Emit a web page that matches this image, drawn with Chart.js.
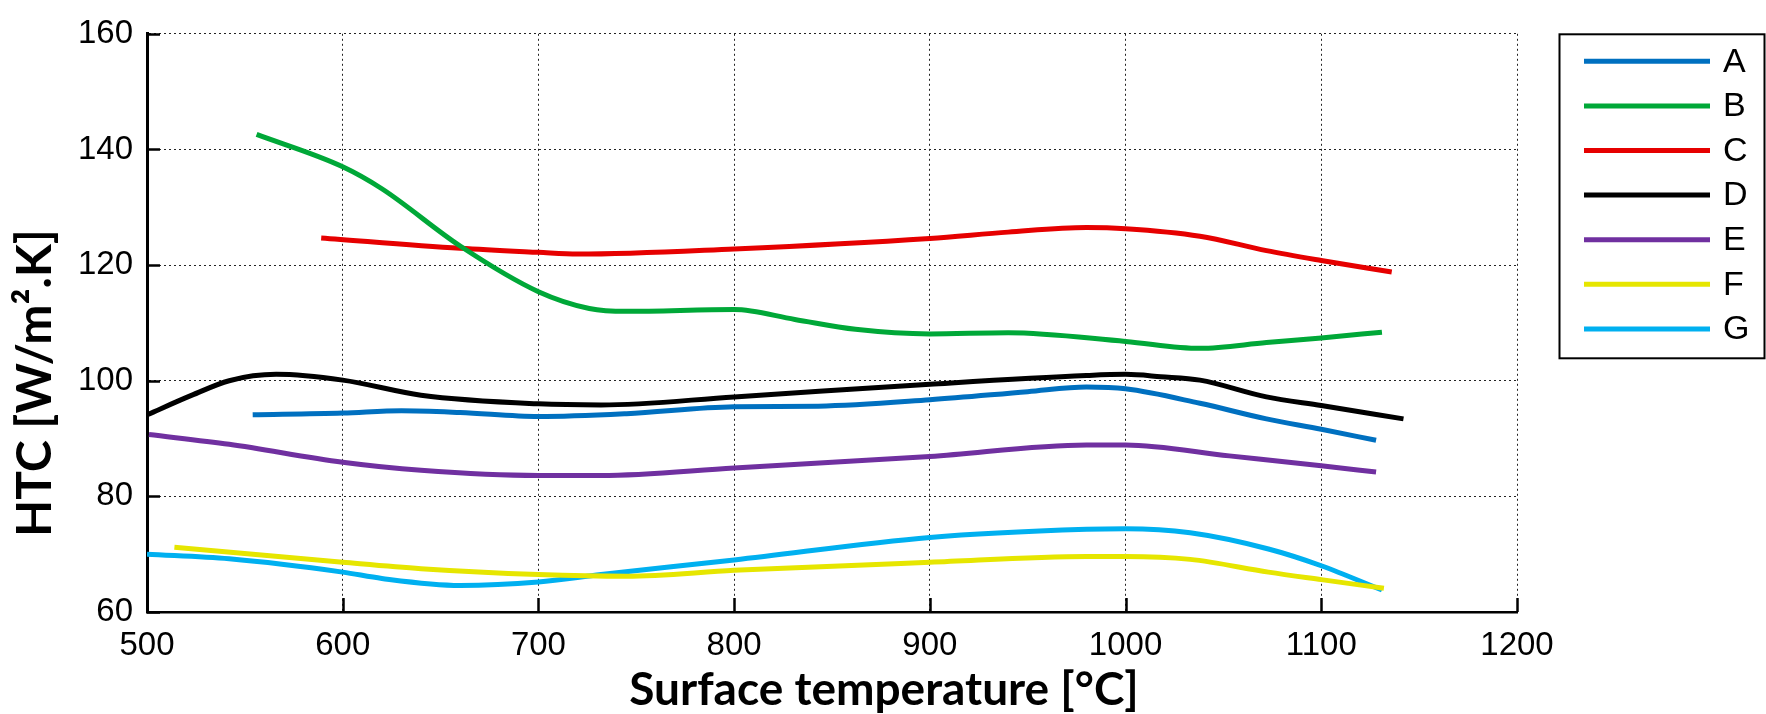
<!DOCTYPE html>
<html>
<head>
<meta charset="utf-8">
<script src="https://cdn.jsdelivr.net/npm/chart.js@4.4.1/dist/chart.umd.min.js"></script>
<style>
  html, body { margin: 0; padding: 0; background: #fff; }
  #wrap { width: 1766px; height: 714px; }
</style>
</head>
<body>
<div id="wrap"><canvas id="htcChart" width="1766" height="714"></canvas></div>
<script>
// surface temperature (C) / HTC (W/m2.K), one pair of arrays per case
const tempA = [554, 600, 630, 660, 700, 745, 800, 843, 900, 950, 980, 1000, 1038, 1072, 1100, 1128];
const htcA  = [94.1, 94.4, 94.8, 94.5, 93.8, 94.3, 95.5, 95.6, 96.7, 98.1, 98.9, 98.6, 96.1, 93.4, 91.6, 89.7];

const tempB = [556, 600, 620, 660, 700, 726, 745, 800, 831, 862, 900, 940, 1000, 1038, 1072, 1100, 1131];
const htcB  = [142.6, 137.0, 133.2, 123.3, 115.4, 112.5, 112.0, 112.3, 110.6, 108.9, 108.1, 108.3, 106.8, 105.6, 106.6, 107.4, 108.4];

const tempC = [589, 660, 700, 720, 800, 900, 940, 980, 1000, 1038, 1072, 1100, 1136];
const htcC  = [124.7, 122.9, 122.2, 121.9, 122.8, 124.6, 125.7, 126.5, 126.3, 125.0, 122.5, 120.8, 118.8];

const tempD = [500, 523, 542, 566, 600, 640, 700, 732, 800, 900, 980, 1000, 1018, 1038, 1072, 1100, 1142];
const htcD  = [94.1, 97.5, 100.0, 101.1, 100.1, 97.5, 96.0, 95.8, 97.2, 99.4, 100.9, 101.1, 100.7, 100.1, 97.2, 95.7, 93.4];

const tempE = [501, 542, 600, 640, 700, 732, 800, 900, 980, 1000, 1053, 1100, 1128];
const htcE  = [90.7, 89.0, 85.9, 84.5, 83.6, 83.6, 84.9, 86.9, 88.9, 88.9, 87.0, 85.3, 84.2];

const tempF = [514, 600, 640, 700, 745, 800, 900, 980, 1000, 1033, 1073, 1100, 1132];
const htcF  = [71.2, 68.6, 67.5, 66.5, 66.2, 67.2, 68.6, 69.6, 69.6, 69.1, 66.9, 65.6, 64.1];

const tempG = [500, 542, 600, 620, 660, 700, 732, 800, 900, 980, 1000, 1033, 1073, 1100, 1131];
const htcG  = [70.0, 69.2, 66.9, 65.8, 64.6, 65.2, 66.5, 69.0, 72.9, 74.3, 74.4, 73.7, 70.9, 68.0, 63.8];

const seriesNames = ['A', 'B', 'C', 'D', 'E', 'F', 'G'];
const seriesColors = ['#0070C0', '#00A838', '#E60000', '#000000', '#7030A0', '#E6E600', '#00B0F0'];
const xTicks = [500, 600, 700, 800, 900, 1000, 1100, 1200];
const yTicks = [60, 80, 100, 120, 140, 160];

const temps = [tempA, tempB, tempC, tempD, tempE, tempF, tempG];
const htcs = [htcA, htcB, htcC, htcD, htcE, htcF, htcG];

const datasets = seriesNames.map((name, i) => ({
  label: name,
  data: temps[i].map((t, j) => ({ x: t, y: htcs[i][j] })),
  borderColor: seriesColors[i],
  backgroundColor: seriesColors[i],
  borderWidth: 5,
  pointRadius: 0,
  cubicInterpolationMode: 'monotone',
  fill: false
}));

// matlab style: inward tick marks, boxed legend, offset axis labels
const matlabBits = {
  id: 'matlabBits',
  afterDraw(chart) {
    const ctx = chart.ctx;
    const area = chart.chartArea;
    const xs = chart.scales.x, ys = chart.scales.y;
    ctx.save();
    ctx.strokeStyle = '#000';
    ctx.lineWidth = 2.5;
    xTicks.forEach(v => {
      const px = Math.round(xs.getPixelForValue(v)) + 0.5;
      ctx.beginPath(); ctx.moveTo(px, area.bottom); ctx.lineTo(px, area.bottom - 14); ctx.stroke();
    });
    yTicks.forEach(v => {
      const py = Math.round(ys.getPixelForValue(v)) + 0.5;
      ctx.beginPath(); ctx.moveTo(area.left, py); ctx.lineTo(area.left + 13, py); ctx.stroke();
    });

    // axis titles
    ctx.fillStyle = '#000';
    ctx.font = 'bold 46px Lato';
    ctx.textAlign = 'center';
    ctx.textBaseline = 'alphabetic';
    ctx.fillText('Surface temperature [°C]', (area.left + area.right) / 2 + 52, 705);
    ctx.save();
    ctx.font = 'bold 48px Lato';
    ctx.translate(51, (area.top + area.bottom) / 2 + 60);
    ctx.rotate(-Math.PI / 2);
    ctx.fillText('HTC [W/m².K]', 0, 0);
    ctx.restore();

    // legend box
    const bx = area.right + 42, by = area.top, bw = 205, bh = 324;
    ctx.lineWidth = 2;
    ctx.strokeRect(bx + 0.5, by + 0.5, bw, bh);
    ctx.font = '34px "Liberation Sans"';
    ctx.textAlign = 'left';
    ctx.textBaseline = 'middle';
    chart.data.datasets.forEach((ds, i) => {
      const ly = by + 27.5 + i * 44.6;
      ctx.strokeStyle = ds.borderColor;
      ctx.lineWidth = 5;
      ctx.beginPath(); ctx.moveTo(bx + 25, ly); ctx.lineTo(bx + 151, ly); ctx.stroke();
      ctx.fillStyle = '#000';
      ctx.fillText(ds.label, bx + 164, ly + 1);
    });
    ctx.restore();
  }
};

const config = {
  type: 'line',
  data: { datasets },
  options: {
    responsive: false,
    animation: false,
    devicePixelRatio: 1,
    layout: { padding: { left: 0, right: 249, top: 24, bottom: 0 } },
    plugins: { legend: { display: false }, tooltip: { enabled: false } },
    scales: {
      x: {
        type: 'linear',
        min: 500, max: 1200,
        afterBuildTicks: s => { s.ticks = xTicks.map(v => ({ value: v })); },
        afterFit: s => { s.height = 102; },
        grid: { color: '#222', lineWidth: 1, drawTicks: false },
        border: { display: true, color: '#000', width: 2.5, dash: [2, 3] },
        ticks: { color: '#000', padding: 14, font: { family: 'Liberation Sans', size: 33 }, maxRotation: 0,
                 callback: v => String(v) }
      },
      y: {
        min: 60, max: 160,
        afterBuildTicks: s => { s.ticks = yTicks.map(v => ({ value: v })); },
        afterFit: s => { s.width = 147; },
        grid: { color: '#222', lineWidth: 1, drawTicks: false },
        border: { display: true, color: '#000', width: 3, dash: [2, 3] },
        ticks: { color: '#000', padding: 14, font: { family: 'Liberation Sans', size: 33 },
                 callback: v => String(v) }
      }
    }
  },
  plugins: [matlabBits]
};

var htcChart = new Chart(document.getElementById('htcChart'), config);
</script>
</body>
</html>
